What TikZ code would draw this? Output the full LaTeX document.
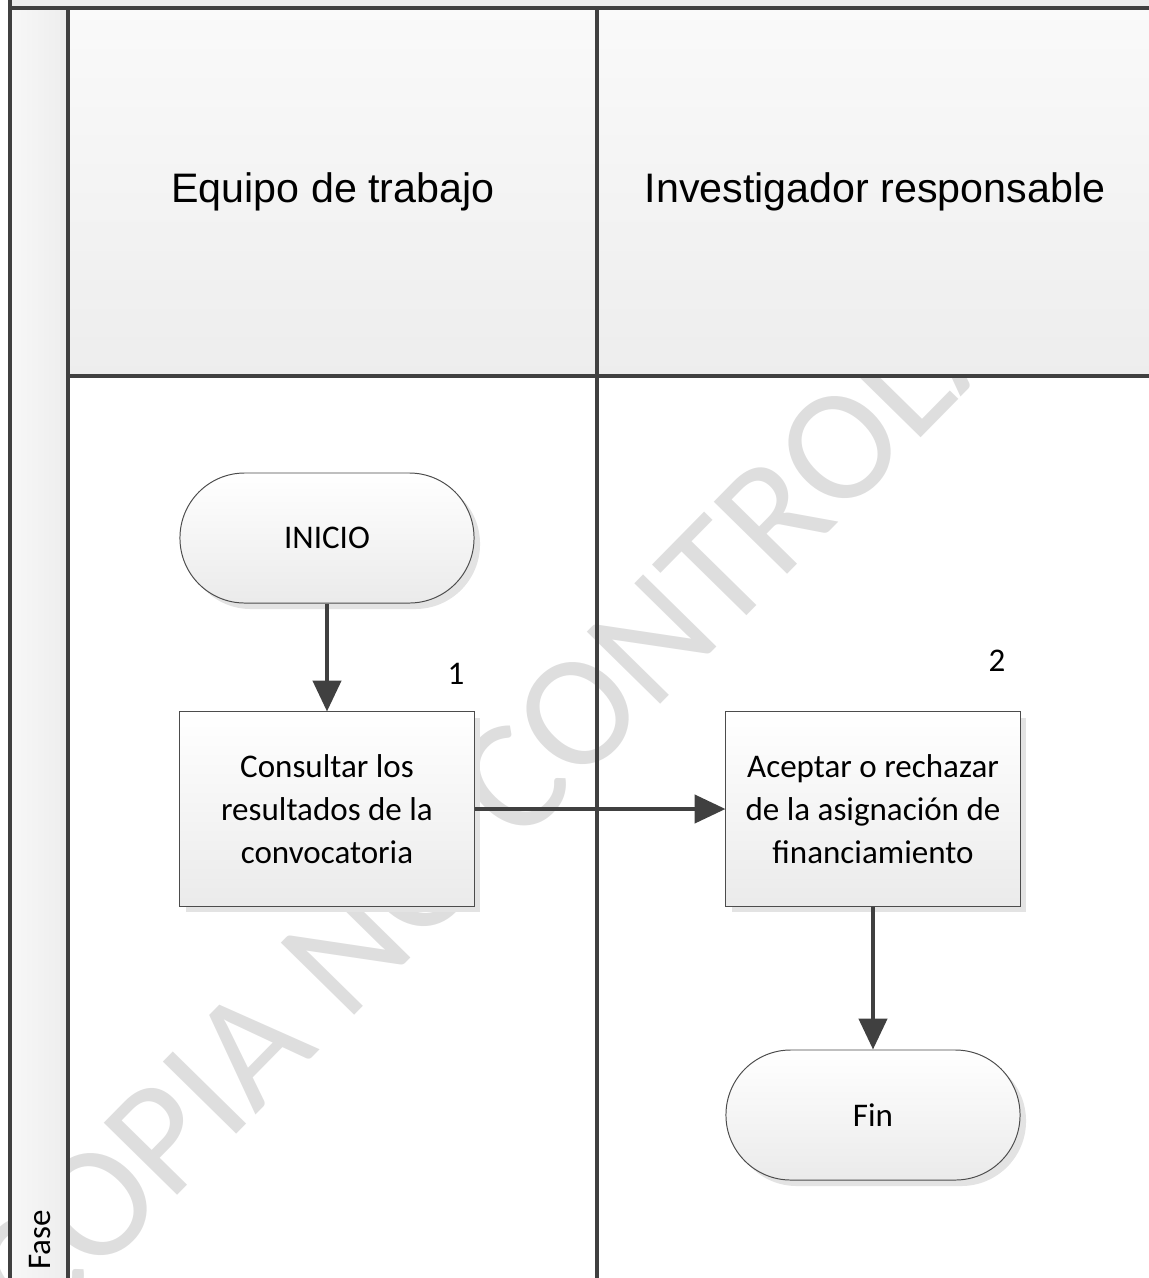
\documentclass[tikz,border=0pt]{standalone}
\usepackage{fontspec}
\setmainfont{Carlito}
\newfontfamily\headfont{Liberation Sans}
\usepackage{tikz}
\usetikzlibrary{arrows.meta,shadows}
\definecolor{lanegray}{RGB}{64,64,64}
\definecolor{marcagris}{RGB}{222,222,222}

\begin{document}
\begin{tikzpicture}[x=0.025cm,y=-0.025cm,
  carril/.style={draw=lanegray,line width=2.2pt},
  paso/.style={draw=black!70,line width=0.7pt,top color=white,bottom color=black!8,
    minimum width=7.35cm,minimum height=4.85cm,align=center,
    font=\fontsize{23.5}{30.6}\selectfont,
    drop shadow={shadow xshift=0.15cm,shadow yshift=-0.15cm,fill=black!11,opacity=1}},
  terminal/.style={paso,minimum height=3.25cm,rounded corners=1.62cm},
  flecha/.style={draw=lanegray,line width=2.9pt,-{Triangle[length=22pt,width=20pt]}},
  numero/.style={font=\fontsize{23.5}{28}\selectfont},
  titulo/.style={font=\headfont\fontsize{29.3}{35}\selectfont},
  marca/.style={text=marcagris,font=\fontsize{114}{114}\selectfont,inner sep=0pt}]
\useasboundingbox (0,0) rectangle (1149,1278);

% marca de agua
\begin{scope}
\clip (0,0) rectangle (1149,1278);
\node[marca,rotate=45.5,anchor=base west] (marca) at (36,1339) {COPIA NO CONTROLA};
\end{scope}

% fondos
\fill[black!7] (10,0) rectangle (1149,8);
\shade[top color=white!98!black,bottom color=black!7] (68,8) rectangle (1149,376);
\shade[left color=white!97!black,right color=black!7] (10,8) rectangle (68,1278);

% carriles
\coordinate (sup izq) at (10,8);
\coordinate (sup der) at (1149,8);
\draw[carril] (10,0) -- (10,1278);
\draw[carril] (sup izq) -- (sup der);
\draw[carril] (68,8) -- (68,1278);
\draw[carril] (597,8) -- (597,1278);
\draw[carril] (68,376) -- (1149,376);

\node[titulo] (equipo) at (333,192) {Equipo de trabajo};
\node[titulo] (investigador) at (875,192) {Investigador responsable};
\node[numero,rotate=90] (fase) at (40,1240) {Fase};

% pasos
\node[terminal] (inicio) at (327,538) {INICIO};
\node[paso] (consultar) at (327,809) {Consultar los\\resultados de la\\convocatoria};
\node[paso] (aceptar) at (873,809) {Aceptar o rechazar\\de la asignación de\\financiamiento};
\node[terminal] (fin) at (873,1115) {Fin};

\node[numero] (n1) at (456,674) {1};
\node[numero] (n2) at (997,661) {2};

% flechas
\draw[flecha] (inicio) -- (consultar);
\draw[flecha] (consultar) -- (aceptar);
\draw[flecha] (aceptar) -- (fin);
\end{tikzpicture}
\end{document}
